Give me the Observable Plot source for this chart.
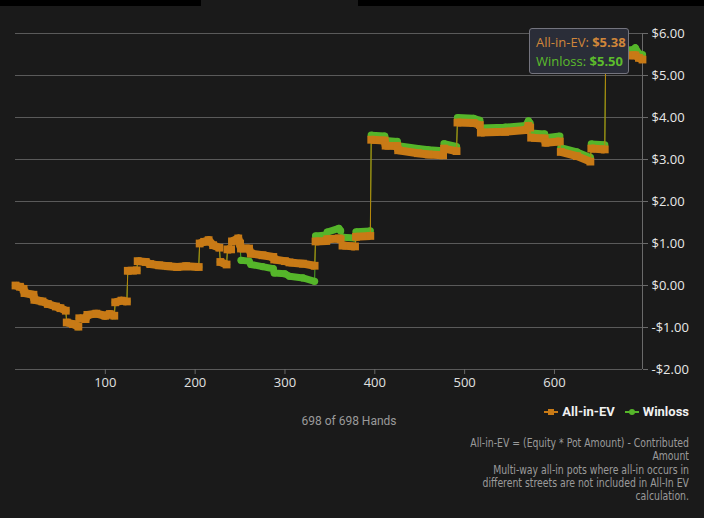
<!DOCTYPE html>
<html>
<head>
<meta charset="utf-8">
<script src="https://cdn.jsdelivr.net/npm/d3@7"></script>
<script src="https://cdn.jsdelivr.net/npm/@observablehq/plot@0.6"></script>
<style>
  html, body { margin: 0; padding: 0; background: #1a1a1a; }
  #wrap { position: relative; width: 704px; height: 518px; overflow: hidden; background: #1a1a1a; font-family: "Open Sans", sans-serif; }
  #chart { position: absolute; left: 0; top: 0; }
  .bar { position: absolute; top: 0; height: 6px; background: #000; }
  #tip { position: absolute; left: 529px; top: 28px; width: 100px; height: 46px; background: #2a2d38; border: 1px solid #74747e; border-radius: 3px; font-size: 13px; line-height: 19px; padding: 4px 0 0 6px; box-sizing: border-box; white-space: nowrap; }
  #tip .ev { color: #d0863a; }
  #tip .wl { color: #5cbc2c; }
  #tip b { font-weight: 700; }
  #hands { position: absolute; left: 0; width: 698px; top: 414px; text-align: center; font-family: Roboto, sans-serif; font-size: 12px; color: #9a9a9a; }
  #legend { position: absolute; right: 15px; top: 404px; font-family: Roboto, sans-serif; font-size: 13px; font-weight: 700; color: #f0f0f0; display: flex; align-items: center; white-space: nowrap; }
  #legend .item { display: flex; align-items: center; }
  #legend svg { margin-right: 4px; }
  #legend .gap { width: 10px; }
  #note { position: absolute; right: 15px; top: 437px; text-align: right; font-family: "DejaVu Sans Condensed", "Liberation Sans Narrow", sans-serif; font-size: 11.5px; line-height: 13.3px; color: #9a9a9a; white-space: nowrap; transform: scaleX(0.9); transform-origin: right top; }
</style>
</head>
<body>
<div id="wrap">
  <div id="chart"></div>
  <div class="bar" style="left:0;width:201px"></div>
  <div class="bar" style="left:358px;width:346px"></div>
  <div id="tip"></div>
  <div id="hands"></div>
  <div id="legend"></div>
  <div id="note"></div>
</div>
<script>
// ---- data ----
const hands = [0,5,9,10,20,21,30,36,45,50,56,57,64,70,71,78,80,90,100,105,110,111,118,124,125,135,136,145,150,160,170,180,190,204,205,210,215,220,227,228,235,236,240,241,248,250,251,260,262,275,287,288,300,305,320,333,334,346,347,360,362,364,378,379,395,396,411,412,425,426,448,460,476,477,491,492,510,517,518,545,568,571,573,574,589,590,606,607,625,640,641,656,657,688,690,694,698];
const allInEV = [0.00,-0.03,-0.08,-0.18,-0.22,-0.34,-0.38,-0.44,-0.50,-0.54,-0.60,-0.88,-0.92,-0.98,-0.78,-0.80,-0.70,-0.67,-0.72,-0.68,-0.72,-0.40,-0.36,-0.38,0.35,0.36,0.58,0.56,0.51,0.48,0.46,0.44,0.46,0.44,1.00,1.04,1.08,0.96,0.90,0.56,0.50,0.86,0.86,1.05,1.12,1.00,0.88,0.88,0.76,0.72,0.68,0.62,0.58,0.55,0.52,0.47,1.05,1.06,1.10,1.12,1.10,0.95,0.93,1.16,1.18,3.47,3.45,3.33,3.32,3.22,3.15,3.12,3.10,3.26,3.20,3.88,3.87,3.82,3.64,3.66,3.70,3.80,3.76,3.52,3.50,3.40,3.43,3.18,3.08,2.95,3.26,3.24,5.45,5.48,5.48,5.42,5.38];
const winloss = [0.00,-0.03,-0.08,-0.18,-0.22,-0.34,-0.38,-0.44,-0.50,-0.54,-0.60,-0.88,-0.92,-0.98,-0.78,-0.80,-0.70,-0.67,-0.72,-0.68,-0.72,-0.40,-0.36,-0.38,0.35,0.36,0.58,0.56,0.51,0.48,0.46,0.44,0.46,0.44,1.00,1.04,1.08,0.96,0.90,0.56,0.50,0.86,0.86,1.05,1.12,1.00,0.60,0.58,0.50,0.45,0.40,0.30,0.28,0.22,0.18,0.10,1.18,1.20,1.27,1.36,1.30,1.15,1.13,1.28,1.30,3.58,3.56,3.45,3.43,3.33,3.26,3.23,3.21,3.38,3.31,4.00,3.98,3.93,3.75,3.77,3.81,3.92,3.86,3.63,3.61,3.52,3.56,3.28,3.18,3.05,3.37,3.35,5.56,5.62,5.66,5.52,5.50];
const yTicks = [-2,-1,0,1,2,3,4,5,6];
const xTicks = [100,200,300,400,500,600];
const totalHands = 698;
const seriesNames = ["All-in-EV", "Winloss"];
const seriesColors = ["#c87a16", "#55b52a"];
const thinColors = ["#b8860b", "#4ea826"];
const tipValues = [5.38, 5.50];
const noteLines = [
  "All-in-EV = (Equity * Pot Amount) - Contributed",
  "Amount",
  "Multi-way all-in pots where all-in occurs in",
  "different streets are not included in All-In EV",
  "calculation."
];

// ---- build table; split bands at large jumps so they appear as thin connectors ----
function buildRows(values) {
  let seg = 0;
  return hands.map((h, i) => {
    if (i > 0 && Math.abs(values[i] - values[i - 1]) > 0.15) seg++;
    return { hand: h, value: values[i], seg };
  });
}
const evRows = buildRows(allInEV);
const wlRows = buildRows(winloss);

const money = d => (d < 0 ? "-" : "") + "$" + Math.abs(d).toFixed(2);

const chart = Plot.plot({
  width: 704,
  height: 400,
  marginLeft: 15,
  marginRight: 62,
  marginTop: 33,
  marginBottom: 31,
  style: { background: "transparent", color: "#e8e8e8", fontFamily: "'Open Sans', sans-serif", fontSize: "13px" },
  x: { domain: [0, totalHands] },
  y: { domain: [-2, 6] },
  marks: [
    Plot.gridY(yTicks, { stroke: "#5a5a5a", strokeOpacity: 1 }),
    Plot.ruleX([totalHands], { stroke: "#6a6a6a" }),
    Plot.axisY(yTicks, { anchor: "right", tickSize: 5, tickPadding: 4, tickFormat: money, stroke: "#6a6a6a", label: null, fill: "#e8e8e8" }),
    Plot.axisX(xTicks, { anchor: "bottom", tickSize: 5, tickPadding: 3, tickFormat: d => String(d), stroke: "#6a6a6a", label: null, fill: "#e0e0e0" }),
    // Winloss
    Plot.line(wlRows, { x: "hand", y: "value", stroke: thinColors[1], strokeWidth: 1 }),
    Plot.line(wlRows, { x: "hand", y: "value", z: "seg", stroke: seriesColors[1], strokeWidth: 7, strokeLinecap: "butt", strokeLinejoin: "round" }),
    Plot.dot(wlRows, { x: "hand", y: "value", r: 3.6, fill: seriesColors[1], symbol: "circle" }),
    // All-in-EV
    Plot.line(evRows, { x: "hand", y: "value", stroke: thinColors[0], strokeWidth: 1 }),
    Plot.line(evRows, { x: "hand", y: "value", z: "seg", stroke: seriesColors[0], strokeWidth: 8, strokeLinecap: "butt", strokeLinejoin: "round" }),
    Plot.dot(evRows, { x: "hand", y: "value", r: 4.4, fill: seriesColors[0], symbol: "square" })
  ]
});
document.getElementById("chart").appendChild(chart);

// tooltip
document.getElementById("tip").innerHTML =
  `<div class="ev">${seriesNames[0]}: <b>${money(tipValues[0])}</b></div>` +
  `<div class="wl">${seriesNames[1]}: <b>${money(tipValues[1])}</b></div>`;

// hands caption
document.getElementById("hands").textContent = `${totalHands} of ${totalHands} Hands`;

// legend
const legend = document.getElementById("legend");
seriesNames.forEach((name, i) => {
  if (i > 0) { const g = document.createElement("div"); g.className = "gap"; legend.appendChild(g); }
  const item = document.createElement("div");
  item.className = "item";
  const marker = i === 0
    ? `<rect x="4" y="1" width="6" height="6" fill="${seriesColors[i]}"/>`
    : `<circle cx="7" cy="4" r="3" fill="${seriesColors[i]}"/>`;
  item.innerHTML = `<svg width="14" height="8"><line x1="0" y1="4" x2="14" y2="4" stroke="${seriesColors[i]}" stroke-width="2"/>${marker}</svg><span>${name}</span>`;
  legend.appendChild(item);
});

// note
document.getElementById("note").innerHTML = noteLines.map(l => `<div>${l}</div>`).join("");
</script>
</body>
</html>
